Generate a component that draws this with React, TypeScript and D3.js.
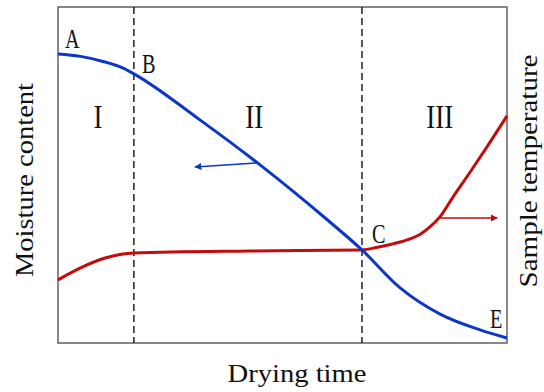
import React from "react";
import * as d3 from "d3";

// Drying time on a 0–100 scale
const moistureTime = [0, 5, 10, 14.5, 16.9, 31.6, 45, 59.5, 67.7, 76.2, 85.1, 94, 100];
const moistureValue = [86, 85.3, 83.8, 81.8, 80.1, 66.4, 53, 37.2, 27.7, 16.4, 8.6, 3.9, 1.5];

const tempTime = [0, 4.9, 10.5, 16.9, 42.8, 67.7, 71.2, 74.6, 78.4, 80.6, 82.9, 85.1, 88.0, 91.8, 95.5, 100];
const tempValue = [18.8, 22.3, 25.3, 26.8, 27.4, 27.7, 28.5, 29.5, 31.0, 32.3, 34.6, 37.6, 43.5, 50.9, 58.3, 67.6];

// Stage boundaries (B and C)
const stageBounds = [16.9, 67.7];
const stageLabels = ["I", "II", "III"];
const stageCenters = [8.9, 43.7, 85];

const pointLabels = ["A", "B", "C", "E"];

const W = 544;
const H = 392;
const left = 58;
const right = 507;
const top = 7;
const bottom = 343;

const BLUE = "#0b37c9";
const RED = "#c40a0a";

export default function App() {
  const x = d3.scaleLinear().domain([0, 100]).range([left, right]);
  const y = d3.scaleLinear().domain([0, 100]).range([bottom, top]);

  const line = d3
    .line<[number, number]>()
    .x((d) => x(d[0]))
    .y((d) => y(d[1]))
    .curve(d3.curveMonotoneX);

  const moisture: [number, number][] = moistureTime.map((t, i) => [t, moistureValue[i]]);
  const temp: [number, number][] = tempTime.map((t, i) => [t, tempValue[i]]);

  const textStyle = { fontFamily: "'Liberation Serif', 'Times New Roman', Times, serif" };

  // arrows pointing to the relevant axis
  const blueArrow = { x1: x(44.3), y1: y(53.6), x2: x(30.5), y2: y(52.4) };
  const redArrow = { x1: x(85.1), y1: y(37.2), x2: x(97.8), y2: y(37.2) };

  const letterPos: [number, number, number, number][] = [
    [moistureTime[0], moistureValue[0], 7, -6],
    [stageBounds[0], moistureValue[4], 8, -1],
    [stageBounds[1], moistureValue[8], 10, -7],
    [moistureTime[12], moistureValue[12], -17, -10],
  ];

  return (
    <svg
      width={W}
      height={H}
      style={{ position: "absolute", left: 0, top: 0, background: "#fff" }}
    >
      <defs>
        <marker id="ah-blue" viewBox="0 0 10 10" refX="9" refY="5" markerWidth="4.5" markerHeight="4.5" orient="auto">
          <path d="M0,0 L10,5 L0,10 z" fill={BLUE} />
        </marker>
        <marker id="ah-red" viewBox="0 0 10 10" refX="9" refY="5" markerWidth="4.5" markerHeight="4.5" orient="auto">
          <path d="M0,0 L10,5 L0,10 z" fill={RED} />
        </marker>
      </defs>

      {/* frame */}
      <rect
        x={left}
        y={top}
        width={right - left}
        height={bottom - top}
        fill="none"
        stroke="#606060"
        strokeWidth={1.5}
      />

      {/* stage boundaries */}
      {stageBounds.map((b, i) => (
        <line
          key={i}
          x1={x(b)}
          x2={x(b)}
          y1={top}
          y2={bottom}
          stroke="#111"
          strokeWidth={1.4}
          strokeDasharray="7,4"
        />
      ))}

      {/* stage labels */}
      {stageLabels.map((s, i) => (
        <text
          key={s}
          transform={`translate(${x(stageCenters[i])},128) scale(0.82,1)`}
          textAnchor="middle"
          style={textStyle}
          fontSize={33}
          fill="#111"
        >
          {s}
        </text>
      ))}

      <path d={line(temp) ?? ""} fill="none" stroke={RED} strokeWidth={3} />
      <path d={line(moisture) ?? ""} fill="none" stroke={BLUE} strokeWidth={3} />

      <line
        x1={blueArrow.x1}
        y1={blueArrow.y1}
        x2={blueArrow.x2}
        y2={blueArrow.y2}
        stroke={BLUE}
        strokeWidth={1.6}
        markerEnd="url(#ah-blue)"
      />
      <line
        x1={redArrow.x1}
        y1={redArrow.y1}
        x2={redArrow.x2}
        y2={redArrow.y2}
        stroke={RED}
        strokeWidth={1.6}
        markerEnd="url(#ah-red)"
      />

      {/* point labels */}
      {pointLabels.map((p, i) => {
        const [t, v, dx, dy] = letterPos[i];
        return (
          <text
            key={p}
            transform={`translate(${x(t) + dx},${y(v) + dy}) scale(0.75,1)`}
            style={textStyle}
            fontSize={27}
            fill="#111"
          >
            {p}
          </text>
        );
      })}

      {/* axis titles */}
      <text
        x={297}
        y={382}
        textAnchor="middle"
        style={textStyle}
        fontSize={26}
        fill="#111"
        textLength={139}
        lengthAdjust="spacingAndGlyphs"
      >
        Drying time
      </text>
      <text
        transform="translate(33,180) rotate(-90)"
        textAnchor="middle"
        style={textStyle}
        fontSize={26}
        fill="#111"
        textLength={194}
        lengthAdjust="spacingAndGlyphs"
      >
        Moisture content
      </text>
      <text
        transform="translate(537,171) rotate(-90)"
        textAnchor="middle"
        style={textStyle}
        fontSize={26}
        fill="#111"
        textLength={233}
        lengthAdjust="spacingAndGlyphs"
      >
        Sample temperature
      </text>
    </svg>
  );
}
